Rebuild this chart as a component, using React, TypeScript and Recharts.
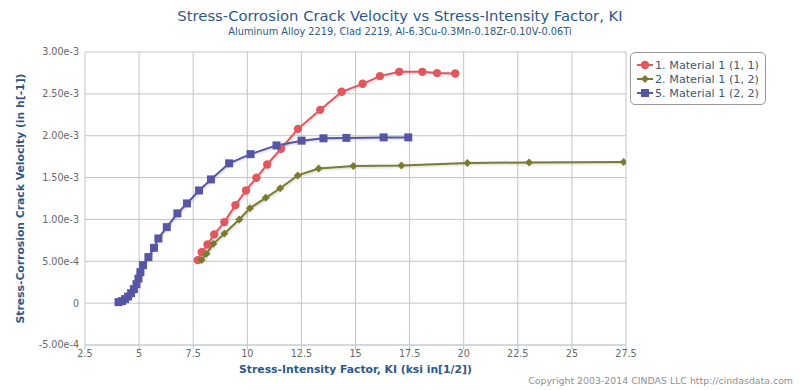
import { LineChart, Line, XAxis, YAxis, CartesianGrid } from 'recharts';

// KI in ksi*in^(1/2), velocity in 1/h
const mat11K = [7.71, 7.89, 8.16, 8.47, 8.94, 9.45, 9.94, 10.42, 10.92, 11.56, 12.34, 13.37, 14.36, 15.33, 16.13, 17.02, 18.09, 18.77, 19.61];
const mat11V = [0.514e-3, 0.609e-3, 0.701e-3, 0.821e-3, 0.968e-3, 1.171e-3, 1.346e-3, 1.497e-3, 1.657e-3, 1.844e-3, 2.082e-3, 2.309e-3, 2.525e-3, 2.62e-3, 2.712e-3, 2.763e-3, 2.763e-3, 2.748e-3, 2.744e-3];

const mat12K = [7.89, 8.11, 8.43, 8.94, 9.63, 10.12, 10.85, 11.52, 12.33, 13.3, 14.9, 17.12, 20.17, 23.02, 27.39];
const mat12V = [0.514e-3, 0.589e-3, 0.708e-3, 0.833e-3, 1.0e-3, 1.135e-3, 1.258e-3, 1.372e-3, 1.526e-3, 1.609e-3, 1.637e-3, 1.643e-3, 1.675e-3, 1.681e-3, 1.685e-3];

const mat22K = [4.05, 4.21, 4.35, 4.49, 4.63, 4.76, 4.88, 4.97, 5.06, 5.18, 5.43, 5.69, 5.89, 6.28, 6.77, 7.21, 7.77, 8.32, 9.16, 10.15, 11.35, 12.51, 13.52, 14.58, 16.3, 17.44];
const mat22V = [0.012e-3, 0.024e-3, 0.048e-3, 0.078e-3, 0.119e-3, 0.167e-3, 0.227e-3, 0.293e-3, 0.37e-3, 0.454e-3, 0.55e-3, 0.661e-3, 0.773e-3, 0.908e-3, 1.072e-3, 1.191e-3, 1.346e-3, 1.478e-3, 1.67e-3, 1.78e-3, 1.884e-3, 1.941e-3, 1.969e-3, 1.974e-3, 1.98e-3, 1.98e-3];

const xTicks = [2.5, 5, 7.5, 10, 12.5, 15, 17.5, 20, 22.5, 25, 27.5];
const yTicks = [-0.0005, 0, 0.0005, 0.001, 0.0015, 0.002, 0.0025, 0.003];

const FONT = '"DejaVu Sans", sans-serif';
const BLUE_TEXT = '#2d5888';

const toPoints = (k: number[], v: number[]) => k.map((x, i) => ({ x, y: v[i] }));

const series = [
  { name: '1. Material 1 (1, 1)', color: '#e0585e', shape: 'circle', data: toPoints(mat11K, mat11V) },
  { name: '2. Material 1 (1, 2)', color: '#7b7b30', shape: 'diamond', data: toPoints(mat12K, mat12V) },
  { name: '5. Material 1 (2, 2)', color: '#5656a4', shape: 'square', data: toPoints(mat22K, mat22V) },
];

function Marker({ shape, cx, cy, color }: { shape: string; cx: number; cy: number; color: string }) {
  if (shape === 'circle') return <circle cx={cx} cy={cy} r={4.2} fill={color} />;
  if (shape === 'diamond') {
    const r = 4;
    return <polygon points={`${cx},${cy - r} ${cx + r},${cy} ${cx},${cy + r} ${cx - r},${cy}`} fill={color} />;
  }
  return <rect x={cx - 4} y={cy - 4} width={8} height={8} fill={color} />;
}

const fmtY = (v: number) => (v === 0 ? '0' : v.toExponential(2));

function YTitle(props: any) {
  const { viewBox } = props;
  const x = viewBox.x + 1;
  const y = viewBox.y + viewBox.height / 2;
  return (
    <text x={x} y={y} transform={`rotate(-90, ${x}, ${y})`} textAnchor="middle" dominantBaseline="central"
      fill={BLUE_TEXT} fontSize={10.8} fontWeight="bold" fontFamily={FONT}>
      Stress-Corrosion Crack Velocity (in h[-1])
    </text>
  );
}

export default function App() {
  return (
    <div style={{ position: 'absolute', left: 0, top: 0, width: 800, height: 390, background: '#fff', fontFamily: FONT }}>
      <div style={{ position: 'absolute', top: 7, width: 800, textAlign: 'center', fontSize: 14.8, color: BLUE_TEXT }}>
        Stress-Corrosion Crack Velocity vs Stress-Intensity Factor, KI
      </div>
      <div style={{ position: 'absolute', top: 26, width: 800, textAlign: 'center', fontSize: 9.8, color: BLUE_TEXT }}>
        Aluminum Alloy 2219, Clad 2219, Al-6.3Cu-0.3Mn-0.18Zr-0.10V-0.06Ti
      </div>

      <LineChart width={800} height={390} margin={{ top: 52, right: 174, bottom: 15, left: 19 }}>
        <CartesianGrid stroke="#c4c4c4" />
        <XAxis
          type="number"
          dataKey="x"
          domain={[2.5, 27.5]}
          ticks={xTicks}
          height={30}
          allowDataOverflow
          tick={{ fill: '#666', fontSize: 9.6, fontFamily: FONT }}
          tickSize={5}
          tickMargin={0}
          tickLine={{ stroke: '#c4c4c4' }}
          axisLine={{ stroke: '#c0d0e0' }}
          label={{ value: 'Stress-Intensity Factor, KI (ksi in[1/2])', position: 'insideBottom', offset: 2, fill: BLUE_TEXT, fontSize: 10.8, fontWeight: 'bold', fontFamily: FONT }}
        />
        <YAxis
          type="number"
          dataKey="y"
          domain={[-0.0005, 0.003]}
          ticks={yTicks}
          width={66}
          tickFormatter={fmtY}
          tick={{ fill: '#666', fontSize: 9.6, fontFamily: FONT }}
          tickSize={0}
          tickMargin={6}
          axisLine={false}
          tickLine={false}
          label={<YTitle />}
        />
        {series.map((s) => (
          <Line
            key={s.name}
            data={s.data}
            dataKey="y"
            name={s.name}
            type="linear"
            stroke={s.color}
            strokeWidth={2}
            style={{ filter: 'drop-shadow(1px 1px 1px rgba(0,0,0,0.18))' }}
            isAnimationActive={false}
            dot={(p: any) => <Marker key={`${s.name}-${p.index}`} shape={s.shape} cx={p.cx} cy={p.cy} color={s.color} />}
            activeDot={false}
          />
        ))}
      </LineChart>

      <div style={{ position: 'absolute', left: 630, top: 52, width: 136, height: 53, boxSizing: 'border-box', border: '1px solid #999', borderRadius: 5, background: '#fff' }}>
        {series.map((s, i) => (
          <div key={s.name} style={{ position: 'absolute', left: 5, top: 5 + i * 14, height: 14, display: 'flex', alignItems: 'center' }}>
            <svg width={18} height={14}>
              <line x1={1} y1={7} x2={17} y2={7} stroke={s.color} strokeWidth={2} />
              <Marker shape={s.shape} cx={9} cy={7} color={s.color} />
            </svg>
            <span style={{ fontSize: 11.2, color: '#3e576f', marginLeft: 1, whiteSpace: 'nowrap' }}>{s.name}</span>
          </div>
        ))}
      </div>

      <div style={{ position: 'absolute', right: 7, top: 375, fontSize: 9.4, color: '#909090', whiteSpace: 'nowrap' }}>
        Copyright 2003-2014 CINDAS LLC http://cindasdata.com
      </div>
    </div>
  );
}
